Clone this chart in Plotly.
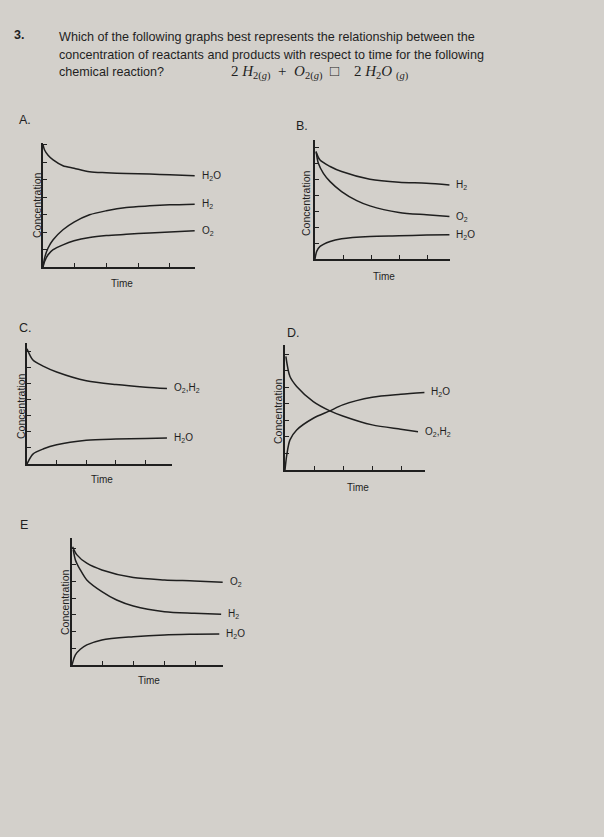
import plotly.graph_objects as go

W, H = 604, 837

# ---------------- data (time and concentration in tick units) ----------------
A_t = [0, 0.05, 0.16, 0.32, 0.63, 0.98, 1.47, 2.0, 2.63, 3.37, 4.0, 4.79]
A_h2o = [7.0, 6.7, 6.4, 6.13, 5.8, 5.66, 5.46, 5.4, 5.35, 5.32, 5.28, 5.23]
A_h2 = [0.0, 0.51, 1.09, 1.56, 2.13, 2.57, 2.99, 3.22, 3.41, 3.5, 3.56, 3.6]
A_o2 = [0.0, 0.32, 0.7, 0.99, 1.27, 1.5, 1.69, 1.8, 1.87, 1.95, 2.0, 2.07]

B_h2_t = [0.04, 0.18, 0.54, 0.95, 1.96, 3.0, 3.98, 4.8]
B_h2 = [6.7, 6.2, 5.8, 5.48, 5.0, 4.81, 4.75, 4.64]
B_o2_t = [0.04, 0.12, 0.3, 0.54, 0.95, 1.49, 1.96, 3.0, 3.98, 4.8]
B_o2 = [6.75, 6.0, 5.37, 4.85, 4.23, 3.66, 3.33, 2.92, 2.77, 2.66]
B_h2o_t = [0, 0.06, 0.18, 0.54, 0.95, 1.96, 3.0, 3.98, 4.8]
B_h2o = [0.0, 0.48, 0.79, 1.1, 1.27, 1.41, 1.45, 1.5, 1.52]

C_t = [0, 0.2, 0.56, 1.0, 2.0, 3.0, 4.0, 4.72]
C_o2h2 = [7.2, 6.5, 6.1, 5.75, 5.2, 4.96, 4.8, 4.72]
C_h2o = [0.0, 0.62, 0.95, 1.2, 1.48, 1.56, 1.6, 1.62]

D_o2h2_t = [0.03, 0.17, 0.4, 0.97, 1.54, 1.98, 2.99, 3.97, 4.56]
D_o2h2 = [6.87, 5.65, 5.05, 4.14, 3.58, 3.27, 2.73, 2.47, 2.32]
D_h2o_t = [0, 0.06, 0.17, 0.4, 0.97, 1.54, 1.98, 2.99, 3.97, 4.78]
D_h2o = [0.0, 0.9, 1.82, 2.42, 3.13, 3.58, 3.94, 4.4, 4.58, 4.69]

E_o2_t = [0.02, 0.16, 0.48, 0.97, 1.99, 3.0, 3.97, 4.89]
E_o2 = [7.08, 6.59, 6.09, 5.69, 5.23, 5.09, 5.03, 4.95]
E_h2_t = [0.04, 0.11, 0.27, 0.48, 0.97, 1.45, 1.99, 3.0, 3.97, 4.84]
E_h2 = [6.9, 6.29, 5.69, 5.09, 4.39, 3.89, 3.53, 3.19, 3.1, 3.04]
E_h2o_t = [0, 0.11, 0.27, 0.48, 0.97, 1.99, 3.0, 3.97, 4.78]
E_h2o = [0.0, 0.6, 0.94, 1.2, 1.5, 1.69, 1.8, 1.84, 1.86]

x_ticks = [1, 2, 3, 4]
y_ticks = [1, 2, 3, 4, 5, 6, 7]

# panel boxes in pixels: (left, top, right, bottom, xmax, ymax)
panels = {
    1: (43, 143, 195, 267, 4.8, 7.1),
    2: (315, 140, 450, 259, 4.82, 7.46),
    3: (27, 343, 172, 464, 4.89, 7.56),
    4: (285, 345, 425, 470, 4.8, 7.56),
    5: (72, 538, 223, 665, 4.9, 7.6),
}

INK = "#1f1f1f"
SANS = "Liberation Sans"

series = [
    (1, A_t, A_h2o, "H<sub>2</sub>O"),
    (1, A_t, A_h2, "H<sub>2</sub>"),
    (1, A_t, A_o2, "O<sub>2</sub>"),
    (2, B_h2_t, B_h2, "H<sub>2</sub>"),
    (2, B_o2_t, B_o2, "O<sub>2</sub>"),
    (2, B_h2o_t, B_h2o, "H<sub>2</sub>O"),
    (3, C_t, C_o2h2, "O<sub>2</sub>,H<sub>2</sub>"),
    (3, C_t, C_h2o, "H<sub>2</sub>O"),
    (4, D_h2o_t, D_h2o, "H<sub>2</sub>O"),
    (4, D_o2h2_t, D_o2h2, "O<sub>2</sub>,H<sub>2</sub>"),
    (5, E_o2_t, E_o2, "O<sub>2</sub>"),
    (5, E_h2_t, E_h2, "H<sub>2</sub>"),
    (5, E_h2o_t, E_h2o, "H<sub>2</sub>O"),
]

fig = go.Figure()
annotations = []

for i, (l, t, r, b, xmax, ymax) in panels.items():
    sfx = "" if i == 1 else str(i)
    common = dict(showline=True, linecolor=INK, linewidth=1.5, ticks="inside",
                  ticklen=4, tickwidth=1.2, tickcolor=INK, showticklabels=False,
                  showgrid=False, zeroline=False, fixedrange=True)
    fig.layout["xaxis" + sfx] = dict(domain=[l / W, r / W], range=[0, xmax],
                                     tickvals=x_ticks, anchor="y" + sfx, **common)
    fig.layout["yaxis" + sfx] = dict(domain=[1 - b / H, 1 - t / H], range=[0, ymax],
                                     tickvals=y_ticks, anchor="x" + sfx, **common)

for (i, tx, vals, label) in series:
    sfx = "" if i == 1 else str(i)
    fig.add_trace(go.Scatter(x=tx, y=vals, mode="lines",
                             line=dict(color=INK, width=1.5, shape="spline", smoothing=0.8),
                             xaxis="x" + sfx, yaxis="y" + sfx, showlegend=False, hoverinfo="skip"))
    annotations.append(dict(x=tx[-1], y=vals[-1], xref="x" + sfx, yref="y" + sfx, text=label,
                            xanchor="left", yanchor="middle", xshift=5, showarrow=False,
                            font=dict(family=SANS, size=10, color=INK)))

# axis titles
time_pos = [(122, 284), (384, 276), (102, 479), (358, 487), (149, 680)]
conc_pos = [(37, 205), (306, 203), (21, 406), (278, 411), (65, 602)]
for (x, y) in time_pos:
    annotations.append(dict(x=x / W, y=1 - y / H, xref="paper", yref="paper", text="Time",
                            showarrow=False, xanchor="center", yanchor="middle",
                            font=dict(family=SANS, size=10, color=INK)))
for (x, y) in conc_pos:
    annotations.append(dict(x=x / W, y=1 - y / H, xref="paper", yref="paper", text="Concentration",
                            textangle=-90, showarrow=False, xanchor="center", yanchor="middle",
                            font=dict(family=SANS, size=10.5, color=INK)))

# panel letters
letters = [("A.", 25, 120), ("B.", 302, 126), ("C.", 25, 328), ("D.", 293, 333), ("E", 24, 525)]
for (s, x, y) in letters:
    annotations.append(dict(x=x / W, y=1 - y / H, xref="paper", yref="paper", text=s,
                            showarrow=False, xanchor="center", yanchor="middle",
                            font=dict(family=SANS, size=12.5, color=INK)))

# question header
header_lines = [
    ("Which of the following graphs best represents the relationship between the", 37),
    ("concentration of reactants and products with respect to time for the following", 55),
    ("chemical reaction?", 72),
]
annotations.append(dict(x=12 / W, y=1 - 35 / H, xref="paper", yref="paper", text="<b>3.</b>",
                        showarrow=False, xanchor="left", yanchor="middle",
                        font=dict(family=SANS, size=12.5, color=INK)))
for (s, y) in header_lines:
    annotations.append(dict(x=57 / W, y=1 - y / H, xref="paper", yref="paper", text=s,
                            showarrow=False, xanchor="left", yanchor="middle",
                            font=dict(family=SANS, size=12.6, color=INK)))
annotations.append(dict(x=229 / W, y=1 - 73 / H, xref="paper", yref="paper",
                        text="2 <i>H</i><sub>2</sub><sub>(<i>g</i>)</sub>  +  <i>O</i><sub>2</sub><sub>(<i>g</i>)</sub>  □    2 <i>H</i><sub>2</sub><i>O</i> <sub>(<i>g</i>)</sub>",
                        showarrow=False, xanchor="left", yanchor="middle",
                        font=dict(family="Liberation Serif", size=15, color=INK)))

fig.update_layout(width=W, height=H, margin=dict(l=0, r=0, t=0, b=0),
                  paper_bgcolor="#d3d0cb", plot_bgcolor="rgba(0,0,0,0)",
                  annotations=annotations, showlegend=False)

fig.write_html("out.html", config={"displayModeBar": False},
               post_script="document.body.style.margin='0';document.body.style.background='#d3d0cb';document.body.style.overflow='hidden';")
